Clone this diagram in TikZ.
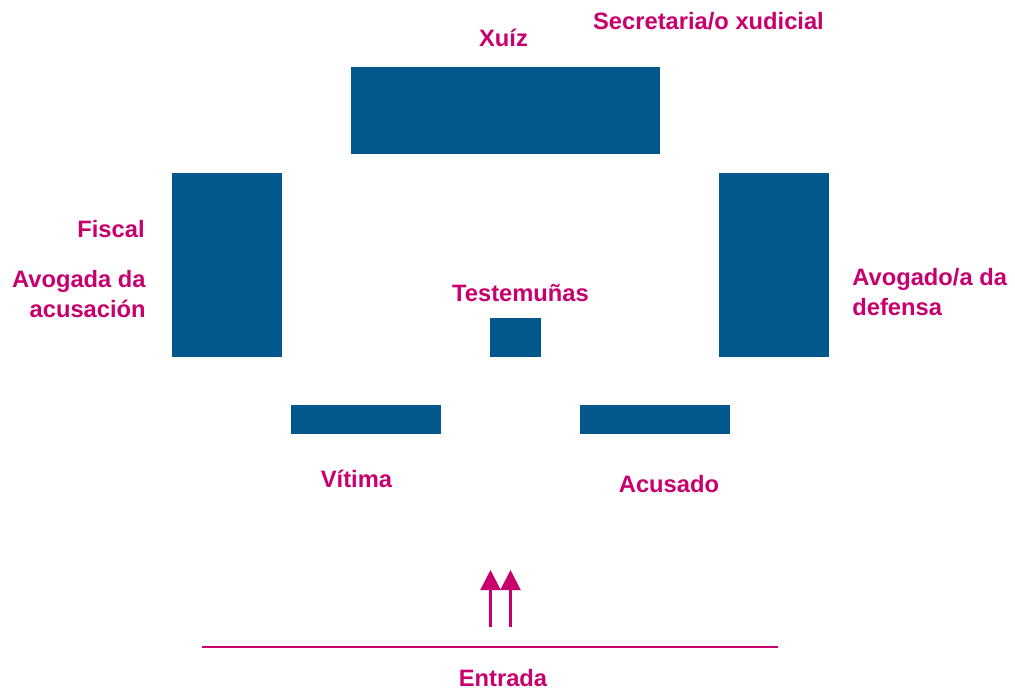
\documentclass[tikz,border=0pt]{standalone}
\usepackage{fontspec}
\setmainfont{Liberation Sans}
\usepackage{tikz}
\usetikzlibrary{arrows.meta}
\usetikzlibrary{positioning}
\definecolor{bench}{RGB}{2,87,140}
\definecolor{rolecol}{RGB}{200,0,110}
\tikzset{>={Triangle[width=0.4cm,length=0.4cm]},
  role/.style={text=rolecol,inner sep=0pt,
    font=\fontsize{13.5}{17.07}\selectfont\bfseries},
  furniture/.style={fill=bench}}

\begin{document}
\begin{tikzpicture}[x=0.02cm,y=-0.02cm,line cap=butt]

  \useasboundingbox (0,0) rectangle (1015,691);

  \fill [furniture] (351,67) rectangle (660,154);
  \fill [furniture] (172,173) rectangle (282,357);
  \fill [furniture] (719,173) rectangle (829,357);
  \fill [furniture] (490,318) rectangle (541,357);
  \fill [furniture] (291,405) rectangle (441,434);
  \fill [furniture] (580,405) rectangle (730,434);



  \draw [rolecol,line width=1.2pt] (202,647) -- (778,647);

  \coordinate (door1) at (490.5,627);
  \coordinate (door2) at (510.5,627);
  \coordinate (in1) at (490.5,570);
  \coordinate (in2) at (510.5,570);
  \draw [->,rolecol,line width=1.2pt] (door1) -- (in1);
  \draw [->,rolecol,line width=1.2pt] (door2) -- (in2);




  \node [role,anchor=base] (xuiz) at (503.5,46) {Xuíz};
  \node [role,anchor=base] (secretaria) at (708.5,29) {Secretaria/o xudicial};
  \node [role,anchor=base east] (fiscal) at (145,237) {Fiscal};
  \node [role,anchor=base east,align=right] (acusacion) at (146,317)
    {Avogada da\\acusación};
  \node [role,anchor=base west,align=left] (defensa) at (852,315)
    {Avogado/a da\\defensa};
  \node [role,anchor=base] (testemunas) at (520.5,301) {Testemuñas};
  \node [role,anchor=base] (vitima) at (356.5,487) {Vítima};
  \node [role,anchor=base] (acusado) at (669,492) {Acusado};
  \node [role,anchor=base] (entrada) at (503,686) {Entrada};

\end{tikzpicture}
\end{document}
